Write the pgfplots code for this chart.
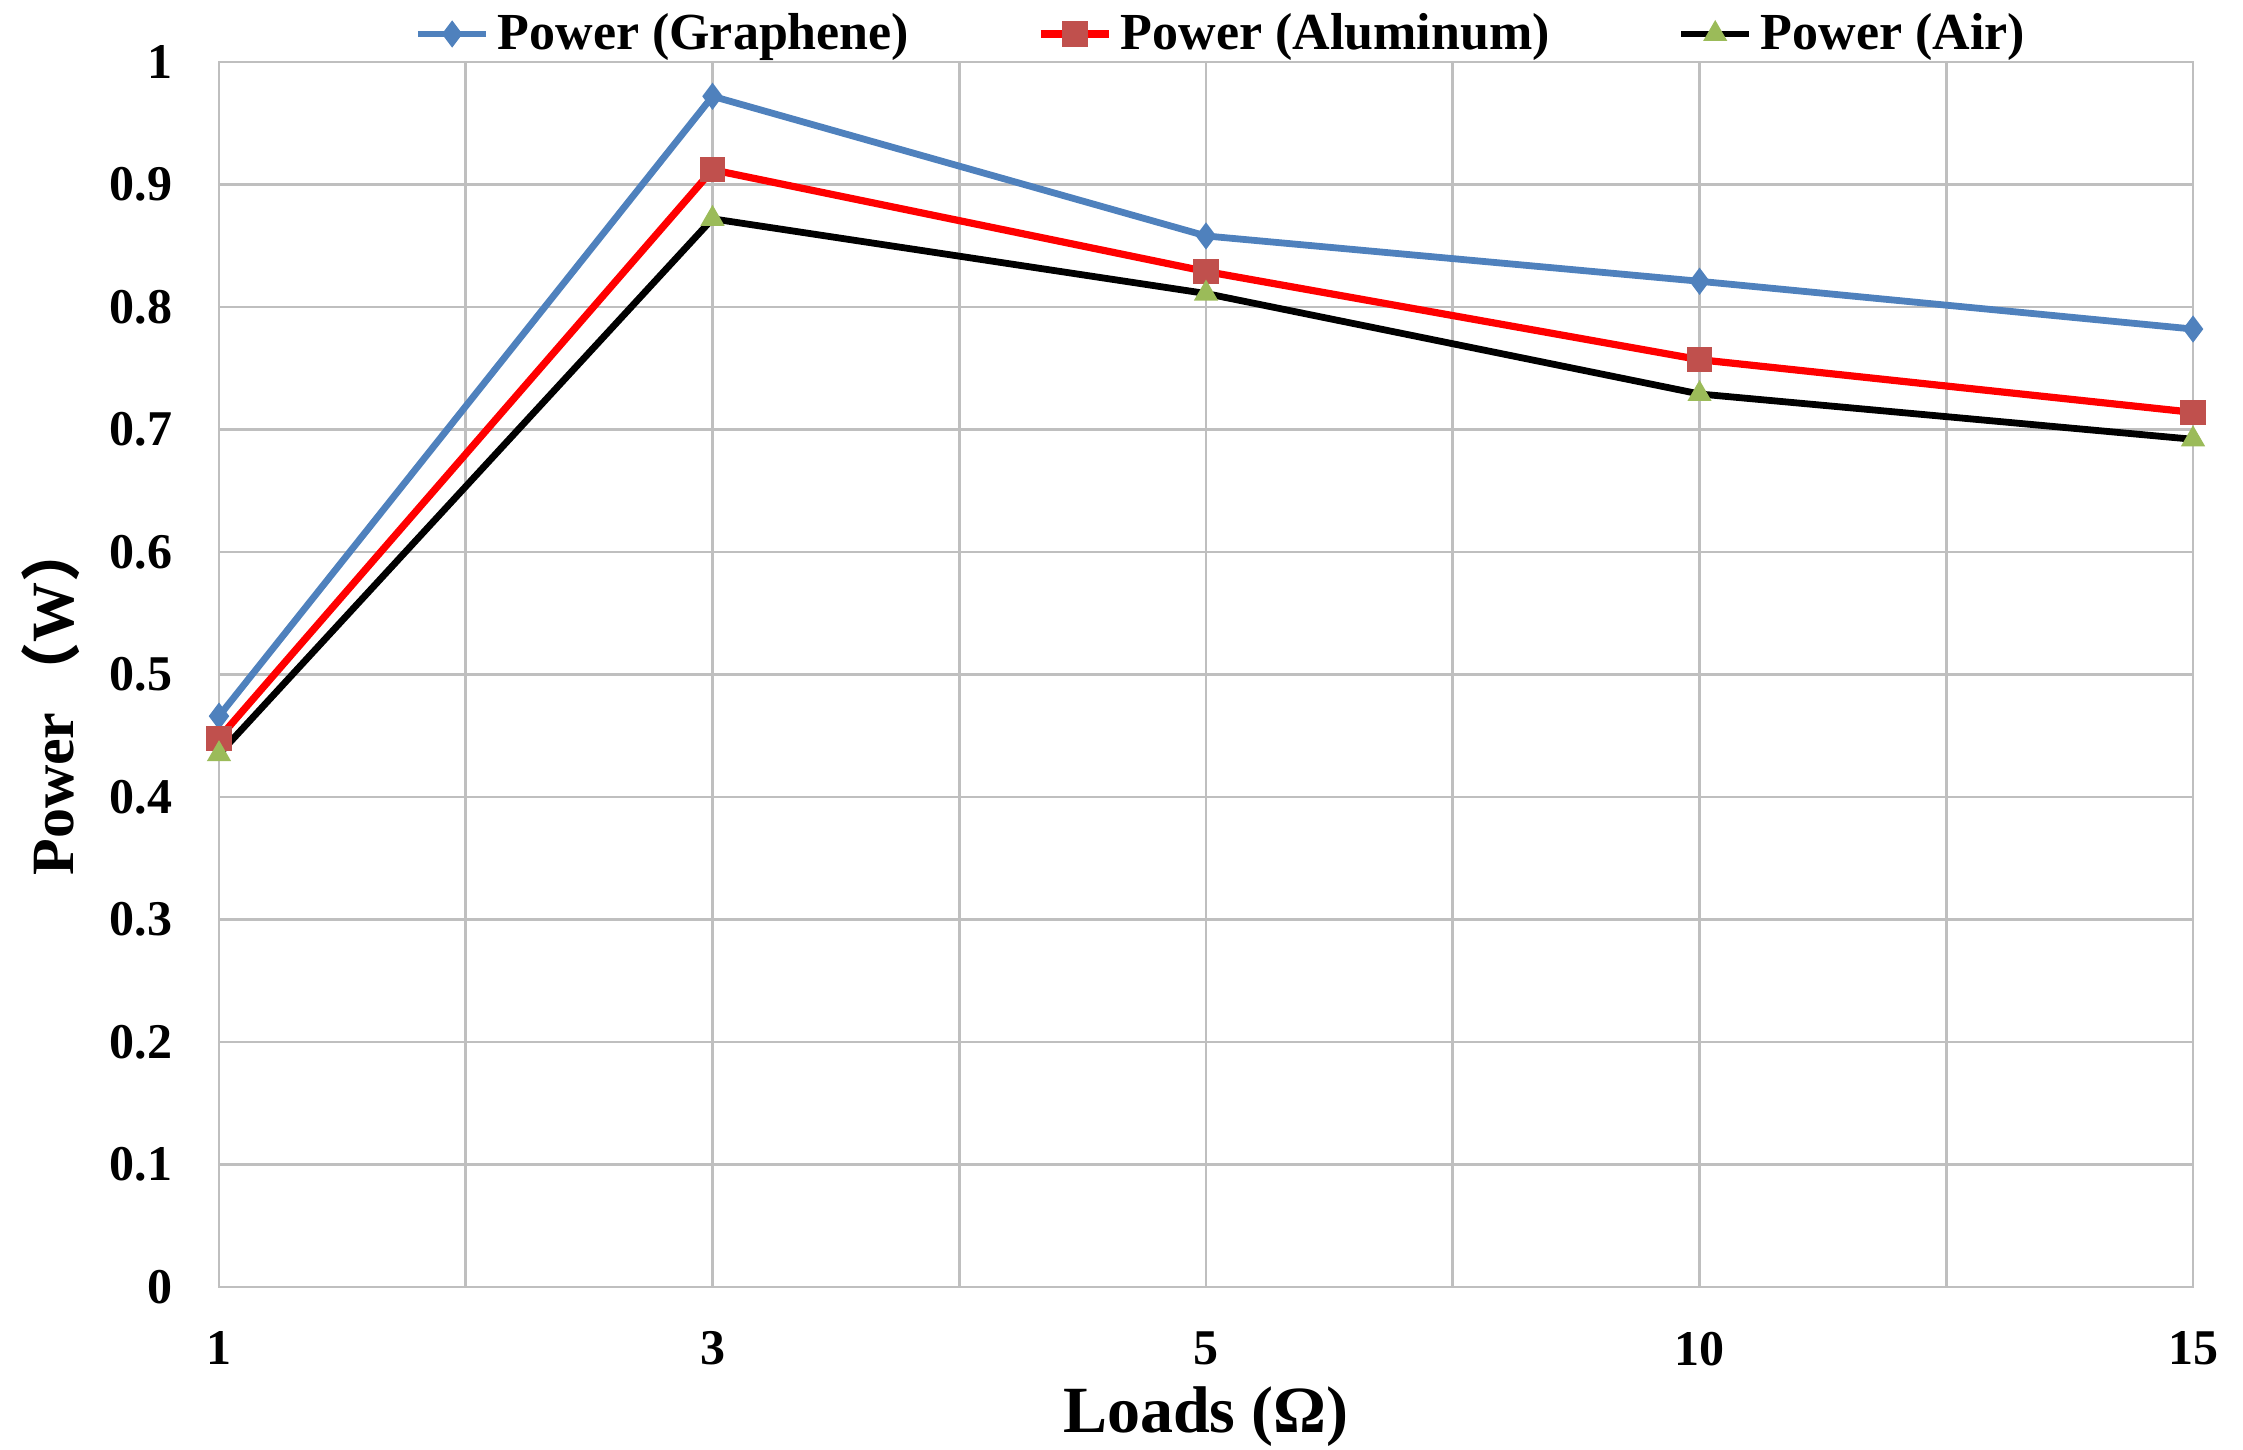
\documentclass[border=0pt]{standalone}
\usepackage{fontspec}
\setmainfont{Liberation Serif}
\newfontfamily\cjk{Noto Sans CJK SC}
\usepackage{pgfplots}
\pgfplotsset{compat=1.18}
\definecolor{gblue}{HTML}{4F81BD}
\definecolor{sqred}{HTML}{C0504D}
\definecolor{tgreen}{HTML}{9BBB59}
\definecolor{gridc}{HTML}{BFBFBF}
\begin{document}
\begin{tikzpicture}
\begin{axis}[
  scale only axis,
  width=493.5pt, height=306.25pt,
  xmin=0, xmax=4, ymin=0, ymax=1,
  xtick={0,1,2,3,4},
  xticklabels={1,3,5,10,15},
  minor xtick={0.5,1.5,2.5,3.5},
  ytick={0,0.1,...,1.0},
  yticklabels={0,0.1,0.2,0.3,0.4,0.5,0.6,0.7,0.8,0.9,1},
  grid=both,
  major grid style={draw=gridc, line width=0.7pt},
  minor grid style={draw=gridc, line width=0.7pt},
  major tick length=0pt, minor tick length=0pt,
  axis line style={draw=gridc, line width=0.7pt},
  /pgf/number format/assume math mode=true,
  ticklabel style={font=\fontsize{12.5}{14}\selectfont\bfseries},
  yticklabel style={anchor=east, inner sep=0pt, xshift=-11.5pt},
  xticklabel style={anchor=north, inner sep=0pt, yshift=-11pt},
  xlabel={Loads (Ω)},
  xlabel style={font=\fontsize{16.5}{18}\selectfont\bfseries, at={(axis description cs:0.5,0)}, anchor=center, yshift=-32.5pt},
  ylabel={Power\,{\cjk\bfseries （}W{\cjk\bfseries ）}},
  ylabel style={font=\fontsize{15}{17}\selectfont\bfseries, at={(axis description cs:-0.085,0.48)}, anchor=center},
  legend columns=3,
  legend style={at={(axis description cs:0.509,1)}, anchor=center, yshift=7pt, draw=none, fill=none,
    font=\fontsize{13}{15}\selectfont\bfseries, inner sep=0pt,
    /tikz/every even column/.append style={column sep=30pt}},
  legend cell align=left,
]
\addplot[gblue, line width=1.7pt, mark=diamond*, mark size=3pt, mark options={fill=gblue, draw=gblue, line width=0.5pt}]
  coordinates {(0,0.466) (1,0.972) (2,0.858) (3,0.821) (4,0.782)};
\addlegendentry{Power (Graphene)}
\addplot[red, line width=1.8pt, mark=square*, mark size=2.9pt, mark options={fill=sqred, draw=sqred, line width=0.5pt}]
  coordinates {(0,0.448) (1,0.912) (2,0.829) (3,0.757) (4,0.714)};
\addlegendentry{Power (Aluminum)}
\addplot[black, line width=1.7pt, mark=triangle*, mark size=3pt, mark options={fill=tgreen, draw=tgreen, line width=0.5pt}]
  coordinates {(0,0.435) (1,0.872) (2,0.811) (3,0.729) (4,0.692)};
\addlegendentry{Power (Air)}
\end{axis}
\pgfresetboundingbox
\path ([xshift=-54.75pt,yshift=-40.5pt]current axis.south west) rectangle ([xshift=12.5pt,yshift=15.5pt]current axis.north east);
\end{tikzpicture}
\end{document}
